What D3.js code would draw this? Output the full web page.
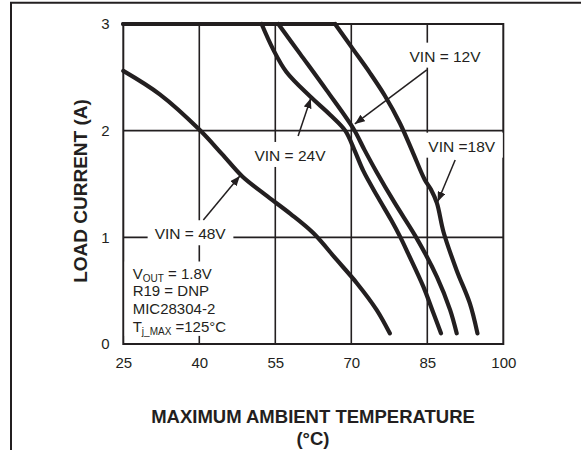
<!DOCTYPE html>
<html>
<head>
<meta charset="utf-8">
<script src="https://cdn.jsdelivr.net/npm/d3@7"></script>
<style>
  html, body { margin: 0; padding: 0; background: #fff; }
  svg { display: block; font-family: "Liberation Sans", Arial, Helvetica, sans-serif; }
</style>
</head>
<body>
<svg id="chart" width="581" height="450"></svg>
<script>
// ---------- data ----------
const xTicks = [25, 40, 55, 70, 85, 100];
const yTicks = [0, 1, 2, 3];
const xTitle = "MAXIMUM AMBIENT TEMPERATURE";
const xUnit = "(°C)";
const yTitle = "LOAD CURRENT (A)";

const seriesNames = ["VIN = 12V", "VIN = 24V", "VIN =18V", "VIN = 48V"];
// [temperature °C, load current A]
const vin12 = [[25,3],[55.6,3],[59.9,2.72],[65.1,2.38],[70.4,2.02],[72.6,1.82],[74.9,1.62],[78.6,1.32],[82.8,1.0],[86.9,0.63],[89.5,0.32],[90.8,0.1]];
const vin24 = [[25,3],[52.3,3],[54.6,2.76],[57.2,2.55],[61.9,2.32],[65.8,2.15],[68.8,2.0],[70.6,1.82],[72.4,1.62],[75.2,1.38],[77.9,1.16],[79.7,1.0],[81.2,0.85],[84.2,0.54],[86.2,0.29],[87.7,0.1]];
const vin18 = [[25,3],[66.8,3],[70.4,2.76],[73.7,2.54],[76.6,2.33],[79.6,2.07],[82.2,1.79],[84.5,1.54],[85.7,1.45],[86.9,1.32],[88.2,1.05],[90.8,0.69],[93.4,0.38],[94.9,0.1]];
const vin48 = [[25,2.56],[32.2,2.34],[40,2.01],[44.5,1.78],[48.5,1.57],[53,1.4],[58,1.22],[62.5,1.04],[67.1,0.79],[71.1,0.57],[75,0.32],[77.6,0.1]];
const seriesData = [vin12, vin24, vin18, vin48];

// annotation layout (data coordinates): label anchor, arrow start, arrow tip
const labelPos  = [[88.5,2.647],[57.9,1.716],[91.8,1.803],[38.2,0.982]];
const arrowFrom = [[84.9,2.569],[59.5,1.95],[90.5,1.725],[40.8,1.162]];
const arrowTo   = [[70.7,2.063],[62.0,2.303],[87.05,1.334],[48.0,1.575]];

const noteLines = [
  [["V",""],["OUT","sub"],[" = 1.8V",""]],
  [["R19 = DNP",""]],
  [["MIC28304-2",""]],
  [["T",""],["j_MAX","sub"],[" =125°C",""]]
];

// ---------- drawing ----------
const ink = "#231f20";
const svg = d3.select("#chart");
const x = d3.scaleLinear().domain([25, 100]).range([123.3, 503.3]);
const y = d3.scaleLinear().domain([0, 3]).range([344, 24]);

// outer frame (left + top)
svg.append("line").attr("x1", 11).attr("y1", 2.7).attr("x2", 11).attr("y2", 450)
  .attr("stroke", ink).attr("stroke-width", 2);
svg.append("line").attr("x1", 10).attr("y1", 2.7).attr("x2", 581).attr("y2", 2.7)
  .attr("stroke", ink).attr("stroke-width", 2);

// grid
const grid = svg.append("g");
grid.selectAll("line.v").data(xTicks.slice(1, -1)).join("line")
  .attr("x1", d => x(d)).attr("x2", d => x(d)).attr("y1", y(3)).attr("y2", y(0))
  .attr("stroke", ink).attr("stroke-width", 1.6);
grid.selectAll("line.h").data(yTicks.slice(1, -1)).join("line")
  .attr("x1", x(25)).attr("x2", x(100)).attr("y1", d => y(d)).attr("y2", d => y(d))
  .attr("stroke", ink).attr("stroke-width", 1.6);
// plot border
svg.append("rect").attr("x", x(25)).attr("y", y(3))
  .attr("width", x(100) - x(25)).attr("height", y(0) - y(3))
  .attr("fill", "none").attr("stroke", ink).attr("stroke-width", 2);

// axes (labels only)
const xAxis = svg.append("g").attr("transform", `translate(0,${y(0)})`)
  .call(d3.axisBottom(x).tickValues(xTicks).tickSize(0).tickPadding(13.3).tickFormat(d3.format("d")));
const yAxis = svg.append("g").attr("transform", `translate(${x(25)},0)`)
  .call(d3.axisLeft(y).tickValues(yTicks).tickSize(0).tickPadding(13.8).tickFormat(d3.format("d")));
[xAxis, yAxis].forEach(a => {
  a.select(".domain").remove();
  a.selectAll("text").attr("fill", ink).style("font-size", "15px")
    .style("font-family", '"Liberation Sans", Arial, sans-serif');
});

// label boxes + text
const labelsG = svg.append("g");
seriesNames.forEach((name, i) => {
  const g = labelsG.append("g");
  const t = g.append("text").attr("x", x(labelPos[i][0])).attr("y", y(labelPos[i][1]))
    .attr("text-anchor", "middle").attr("fill", ink).style("font-size", "15.5px").text(name);
  const b = t.node().getBBox();
  g.insert("rect", "text").attr("x", b.x - 7).attr("y", b.y - 5)
    .attr("width", b.width + 14).attr("height", b.height + 8).attr("fill", "#fff");
});

// note block (one text element per line)
const noteG = svg.append("g");
const noteX = 132.7;
const noteY0 = 278.5, noteDy = 17.8;
noteLines.forEach((line, i) => {
  const t = noteG.append("text").attr("x", noteX).attr("y", noteY0 + i * noteDy)
    .attr("fill", ink).style("font-size", "15px");
  line.forEach((seg, j) => {
    const ts = t.append("tspan").text(seg[0]);
    if (seg[1] === "sub") ts.style("font-size", "10px").attr("dy", 3);
    else if (j > 0 && line[j - 1][1] === "sub") ts.attr("dy", -3);
  });
});
const nb = noteG.node().getBBox();
noteG.insert("rect", "text").attr("x", nb.x - 8).attr("y", nb.y - 3)
  .attr("width", nb.width + 12).attr("height", nb.height + 2).attr("fill", "#fff");

// curves
const curveLine = d3.line().x(d => x(d[0])).y(d => y(d[1])).curve(d3.curveCatmullRom.alpha(0.5));
const flatLine = d3.line().x(d => x(d[0])).y(d => y(d[1]));
const curvesG = svg.append("g");
seriesData.forEach(s => {
  const flatEnd = s.findIndex((d, k) => k > 0 && d[1] < 3);
  if (s[0][1] === 3 && flatEnd > 1) {
    curvesG.append("path").attr("d", flatLine(s.slice(0, flatEnd)))
      .attr("fill", "none").attr("stroke", ink).attr("stroke-width", 4.2).attr("stroke-linecap", "round");
    curvesG.append("path").attr("d", curveLine(s.slice(flatEnd - 1)))
      .attr("fill", "none").attr("stroke", ink).attr("stroke-width", 4.2)
      .attr("stroke-linecap", "round").attr("stroke-linejoin", "round");
  } else {
    curvesG.append("path").attr("d", curveLine(s))
      .attr("fill", "none").attr("stroke", ink).attr("stroke-width", 4.2)
      .attr("stroke-linecap", "round").attr("stroke-linejoin", "round");
  }
});

// arrows
svg.append("defs").append("marker").attr("id", "ah")
  .attr("viewBox", "0 0 10 8").attr("refX", 10).attr("refY", 4)
  .attr("markerWidth", 10).attr("markerHeight", 8).attr("markerUnits", "userSpaceOnUse")
  .attr("orient", "auto")
  .append("path").attr("d", "M0,0 L10,4 L0,8 Z").attr("fill", ink);
const arrowsG = svg.append("g");
arrowFrom.forEach((f, i) => {
  arrowsG.append("line").attr("x1", x(f[0])).attr("y1", y(f[1]))
    .attr("x2", x(arrowTo[i][0])).attr("y2", y(arrowTo[i][1]))
    .attr("stroke", ink).attr("stroke-width", 1.5).attr("marker-end", "url(#ah)");
});

// titles
svg.append("text").attr("x", 313).attr("y", 423.3).attr("text-anchor", "middle")
  .attr("fill", ink).style("font-size", "18.5px").style("font-weight", "bold").text(xTitle);
svg.append("text").attr("x", 313).attr("y", 445).attr("text-anchor", "middle")
  .attr("fill", ink).style("font-size", "18.5px").style("font-weight", "bold").text(xUnit);
svg.append("text").attr("transform", "translate(87,191) rotate(-90)").attr("text-anchor", "middle")
  .attr("fill", ink).style("font-size", "19px").style("font-weight", "bold").text(yTitle);
</script>
</body>
</html>
